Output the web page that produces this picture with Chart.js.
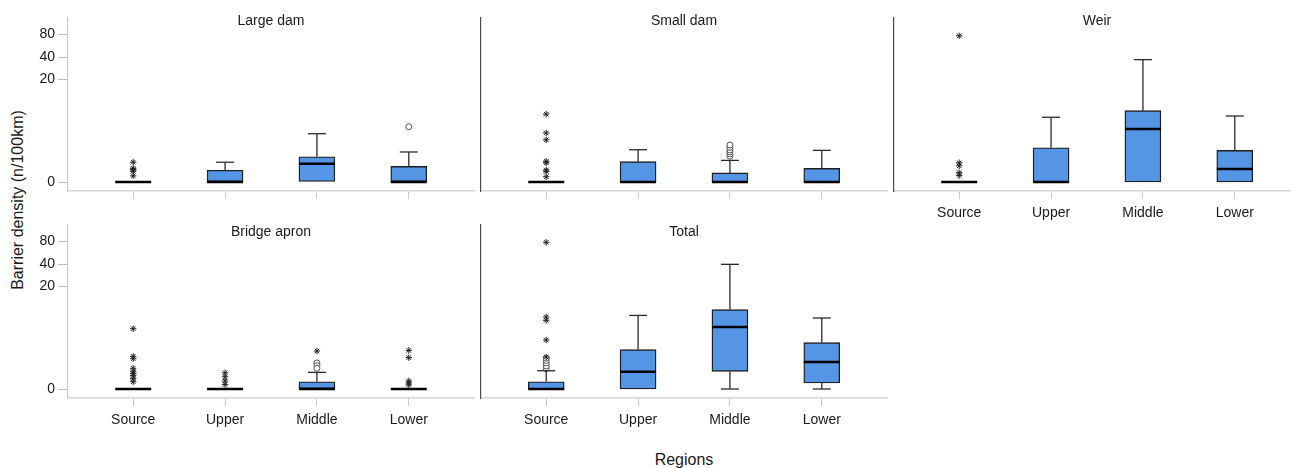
<!DOCTYPE html>
<html>
<head>
<meta charset="utf-8">
<script src="https://cdn.jsdelivr.net/npm/chart.js@4.4.1/dist/chart.umd.min.js"></script>
<style>
  html, body { margin: 0; padding: 0; background: #fff; overflow: hidden; }
  #wrap { position: relative; width: 1291px; height: 468px; overflow: hidden; background: #fff;
          font-family: "Liberation Sans", Arial, sans-serif; color: #1a1a1a; }
  #wrap canvas { position: absolute; }
  .ytitle { position: absolute; left: 18px; top: 200px; transform: translate(-50%, -50%) rotate(-90deg);
            font-size: 16px; white-space: nowrap; }
  .xtitle { position: absolute; left: 684px; top: 460px; transform: translate(-50%, -50%);
            font-size: 16px; white-space: nowrap; }
</style>
</head>
<body>
<div id="wrap">
  <div class="ytitle">Barrier density (n/100km)</div>
  <div class="xtitle">Regions</div>
</div>
<script>
// Categories and axis ticks
const regions = ['Source', 'Upper', 'Middle', 'Lower'];
const yTickValues = [0, 20, 40, 80];

// Box summaries per region: [lower whisker, Q1, median, Q3, upper whisker]  (n/100km)
const largeDamBoxes = [[0, 0, 0, 0, 0], [0, 0, 0, 0.42, 0.80], [0, 0, 0.72, 1.12, 3.2], [0, 0, 0, 0.59, 1.44]];
// Extreme outliers (*) and outliers (o): [region index, value]
const largeDamStars = [[0, 0.8], [0, 0.5], [0, 0.44], [0, 0.38], [0, 0.2]];
const largeDamCircles = [[3, 4.17]];

const smallDamBoxes = [[0, 0, 0, 0, 0], [0, 0, 0, 0.83, 1.61], [0, 0, 0, 0.31, 0.9], [0, 0, 0, 0.5, 1.56]];
const smallDamStars = [[0, 6.5], [0, 3.3], [0, 2.5], [0, 0.85], [0, 0.77], [0, 0.43], [0, 0.37], [0, 0.17]];
const smallDamCircles = [[2, 1.15], [2, 1.3], [2, 1.45], [2, 1.6], [2, 1.8], [2, 2.0]];

const weirBoxes = [[0, 0, 0, 0, 0], [0, 0, 0, 1.77, 5.84], [0, 0, 3.83, 7.32, 36.9], [0, 0, 0.47, 1.56, 6.1]];
const weirStars = [[0, 76], [0, 0.77], [0, 0.62], [0, 0.32], [0, 0.21]];
const weirCircles = [];

const bridgeApronBoxes = [[0, 0, 0, 0, 0], [0, 0, 0, 0, 0], [0, 0, 0, 0.24, 0.64], [0, 0, 0, 0, 0]];
const bridgeApronStars = [[0, 5.0], [0, 1.64], [0, 1.46], [0, 0.85], [0, 0.67], [0, 0.58], [0, 0.5], [0, 0.36], [0, 0.24],
                          [1, 0.62], [1, 0.44], [1, 0.27], [1, 0.14],
                          [2, 2.09],
                          [3, 2.15], [3, 1.54], [3, 0.27], [3, 0.2], [3, 0.13]];
const bridgeApronCircles = [[2, 1.17], [2, 1.0], [2, 0.85]];

const totalBoxes = [[0, 0, 0, 0.24, 0.72], [0, 0, 0.67, 2.22, 7.9], [0, 0.69, 5.31, 9.56, 39.6], [0, 0.195, 1.23, 2.96, 7.25]];
const totalStars = [[0, 77], [0, 7.5], [0, 6.7], [0, 3.29], [0, 1.58]];
const totalCircles = [[0, 0.83], [0, 0.98], [0, 1.17], [0, 1.34], [0, 1.5]];

// log10(x + 1) transform used by the value axis
const tf = v => Math.log10(v + 1);

const FONT = '"Liberation Sans", Arial, sans-serif';
const TEXT = '#1a1a1a';
const LIGHT = '#cbcbcb';
const DARK = '#4a4a4a';

const AREA_W = 406, AREA_H = 173, PAD_L = 68, PAD_T = 18, PAD_B = 50, PAD_R = 6;

const panels = [
  { title: 'Large dam',    boxes: largeDamBoxes,    stars: largeDamStars,    circles: largeDamCircles,
    left: 68,  top: 18,  yLabels: true,  xLabels: false, yBorder: LIGHT, dy: 3 },
  { title: 'Small dam',    boxes: smallDamBoxes,    stars: smallDamStars,    circles: smallDamCircles,
    left: 481, top: 18,  yLabels: false, xLabels: false, yBorder: DARK,  dy: 3 },
  { title: 'Weir',         boxes: weirBoxes,        stars: weirStars,        circles: weirCircles,
    left: 894, top: 18,  yLabels: false, xLabels: true,  yBorder: DARK,  dy: 3 },
  { title: 'Bridge apron', boxes: bridgeApronBoxes, stars: bridgeApronStars, circles: bridgeApronCircles,
    left: 68,  top: 225, yLabels: true,  xLabels: true,  yBorder: LIGHT, dy: 7 },
  { title: 'Total',        boxes: totalBoxes,       stars: totalStars,       circles: totalCircles,
    left: 481, top: 225, yLabels: false, xLabels: true,  yBorder: DARK,  dy: 7 }
];

// Whiskers, caps and median lines drawn on top of the box bars
function whiskerPlugin(boxes) {
  return {
    id: 'whiskers',
    afterDatasetsDraw(chart) {
      const { ctx, scales: { x, y } } = chart;
      const bars = chart.getDatasetMeta(0).data;
      const line = (x1, y1, x2, y2) => { ctx.beginPath(); ctx.moveTo(x1, y1); ctx.lineTo(x2, y2); ctx.stroke(); };
      ctx.save();
      boxes.forEach((b, i) => {
        const cx = x.getPixelForValue(i);
        const half = bars[i] ? bars[i].width / 2 : 18;
        const cap = half / 2;
        const py = v => y.getPixelForValue(tf(v));
        ctx.strokeStyle = '#2b2b2b';
        ctx.lineWidth = 1.3;
        if (b[4] > b[3]) {
          line(cx, py(b[3]), cx, py(b[4]));
          line(cx - cap, py(b[4]), cx + cap, py(b[4]));
        }
        if (b[0] < b[1]) {
          line(cx, py(b[1]), cx, py(b[0]));
          line(cx - cap, py(b[0]), cx + cap, py(b[0]));
        }
        ctx.strokeStyle = '#000';
        ctx.lineWidth = 2.6;
        line(cx - half, py(b[2]), cx + half, py(b[2]));
      });
      ctx.restore();
    }
  };
}

function titlePlugin(text, dy) {
  return {
    id: 'panelTitle',
    afterDraw(chart) {
      const { ctx, chartArea } = chart;
      ctx.save();
      ctx.font = '14px ' + FONT;
      ctx.fillStyle = TEXT;
      ctx.textAlign = 'center';
      ctx.textBaseline = 'middle';
      ctx.fillText(text, (chartArea.left + chartArea.right) / 2, chartArea.top + dy);
      ctx.restore();
    }
  };
}

const wrap = document.getElementById('wrap');

panels.forEach(p => {
  const W = PAD_L + AREA_W + PAD_R;
  const H = PAD_T + AREA_H + PAD_B;
  const cv = document.createElement('canvas');
  cv.width = W; cv.height = H;
  cv.style.width = W + 'px'; cv.style.height = H + 'px';
  cv.style.left = (p.left - PAD_L) + 'px';
  cv.style.top = (p.top - PAD_T) + 'px';
  wrap.appendChild(cv);

  new Chart(cv, {
    type: 'bar',
    data: {
      datasets: [
        {
          type: 'bar',
          data: p.boxes.map((b, i) => ({ x: i, y: [tf(b[1]), tf(b[3])] })),
          backgroundColor: '#5595e6',
          borderColor: '#1f1f1f',
          borderWidth: 1.4,
          borderSkipped: false,
          barThickness: 36,
          order: 2
        },
        {
          type: 'scatter',
          data: p.stars.map(s => ({ x: s[0], y: tf(s[1]) })),
          pointStyle: 'star',
          radius: 3.2,
          borderColor: '#222',
          backgroundColor: '#222',
          borderWidth: 1,
          order: 1
        },
        {
          type: 'scatter',
          data: p.circles.map(s => ({ x: s[0], y: tf(s[1]) })),
          pointStyle: 'circle',
          radius: 3,
          borderColor: '#555',
          backgroundColor: '#fff',
          borderWidth: 1,
          order: 1
        }
      ]
    },
    options: {
      responsive: false,
      animation: false,
      events: [],
      layout: { padding: { top: PAD_T, right: PAD_R, left: 0, bottom: 0 } },
      plugins: { legend: { display: false }, tooltip: { enabled: false } },
      scales: {
        x: {
          type: 'linear',
          min: -0.71, max: 3.71,
          offset: false,
          afterBuildTicks: s => { s.ticks = regions.map((r, i) => ({ value: i })); },
          afterFit: s => { s.height = PAD_B; },
          ticks: {
            display: p.xLabels,
            callback: v => regions[v],
            font: { size: 14, family: FONT },
            color: TEXT,
            padding: 6,
            maxRotation: 0,
            autoSkip: false
          },
          grid: { display: true, offset: false, drawOnChartArea: false, tickLength: 8, color: LIGHT, lineWidth: 1 },
          border: { display: true, color: '#d6d6d6', width: 1.5 }
        },
        y: {
          type: 'linear',
          min: -0.116, max: 2.116,
          afterBuildTicks: s => { s.ticks = yTickValues.map(v => ({ value: tf(v) })); },
          afterFit: s => { s.width = PAD_L; },
          ticks: {
            display: p.yLabels,
            callback: v => String(Math.round(Math.pow(10, v) - 1)),
            font: { size: 14, family: FONT },
            color: TEXT,
            padding: 3
          },
          grid: { display: p.yLabels, drawOnChartArea: false, tickLength: 10, color: '#bdbdbd', lineWidth: 1 },
          border: { display: true, color: p.yBorder, width: 1.2 }
        }
      }
    },
    plugins: [whiskerPlugin(p.boxes), titlePlugin(p.title, p.dy)]
  });
});
</script>
</body>
</html>
